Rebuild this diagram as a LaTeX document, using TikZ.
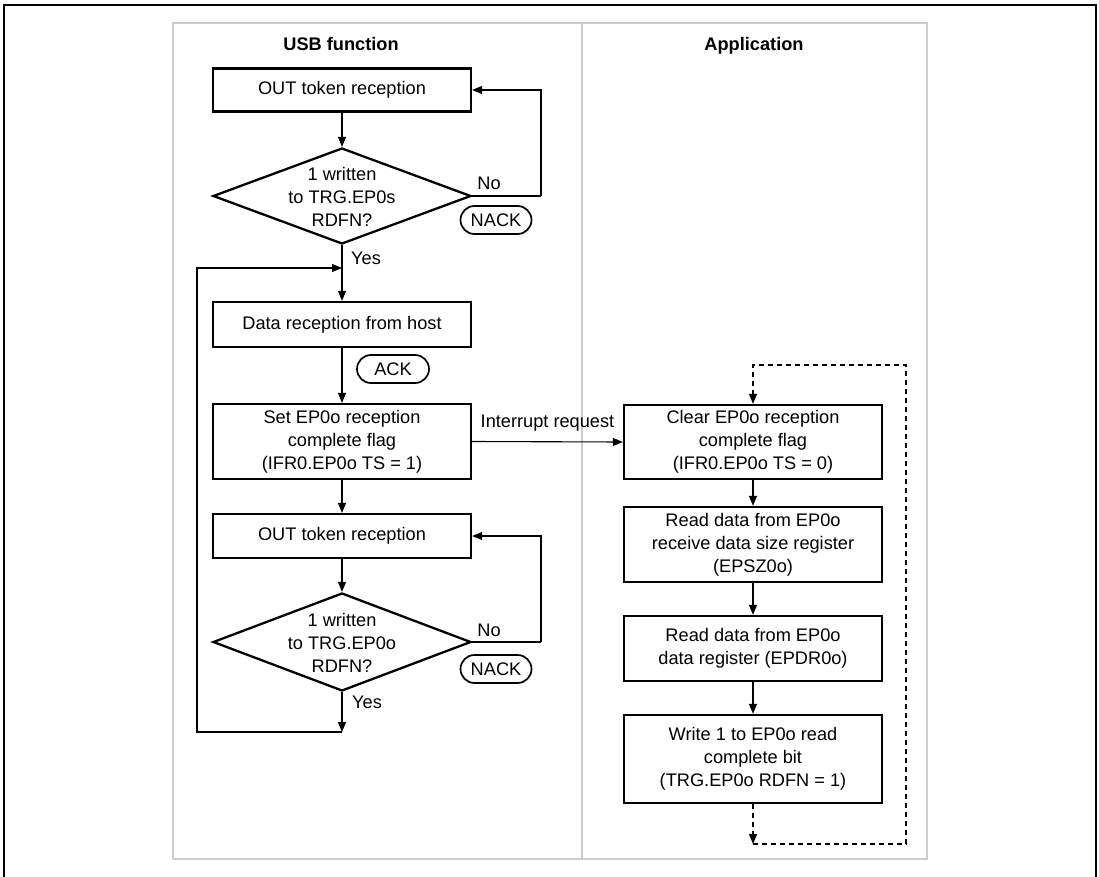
\documentclass[tikz,border=0pt]{standalone}
\usepackage{fontspec}
\setmainfont{Liberation Sans}
\usetikzlibrary{arrows.meta,shapes.geometric,shapes.misc}
\definecolor{lanegray}{RGB}{204,204,204}
\tikzset{
  base/.style={font=\fontsize{18.2}{22.8}\selectfont},
  stepbox/.style={base,draw,line width=2.3pt,minimum width=258pt,align=center,inner sep=0pt},
  decbox/.style={draw,line width=2.3pt,diamond,minimum width=258pt,inner sep=0pt},
  dectext/.style={base,align=center,inner sep=0pt},
  oval/.style={base,draw,line width=1.7pt,rounded rectangle,minimum width=71pt,minimum height=28pt,inner sep=0pt},
  lbl/.style={base,inner sep=0pt},
  title/.style={font=\fontsize{18.2}{22.8}\selectfont\bfseries,inner sep=0pt,anchor=base},
  flow/.style={line width=1.1pt,-{Triangle[length=10pt,width=8pt]}},
  plain/.style={line width=1.1pt},
  dflow/.style={line width=1.1pt,dash pattern=on 5pt off 4pt,-{Triangle[length=10pt,width=8pt]}},
}
\begin{document}
\begin{tikzpicture}[x=1pt,y=-1pt]
\useasboundingbox (0,0) rectangle (1099,877);
% outer frame
\draw[line width=2.6pt] (4,877) -- (4,5) -- (1096,5) -- (1096,877);
% swimlanes
\draw[lanegray,line width=2.5pt] (173,23) rectangle (927,859);
\draw[lanegray,line width=2.5pt] (582,23) -- (582,859);
\node[title] (t1) at (341,50.5) {USB function};
\node[title] (t2) at (754,50.5) {Application};

% left lane
\node[stepbox,minimum height=43pt] (out1) at (342,90) {OUT token reception};
\node[decbox,minimum height=96pt] (d1) at (342,196) {};
\node[dectext] (d1t) at (342,197) {1 written\\to TRG.EP0s\\RDFN?};
\node[lbl] (no1) at (489,183) {No};
\node[oval] (nack1) at (496,220) {NACK};
\node[lbl] (yes1) at (366,258) {Yes};
\coordinate (j1) at (342,268);
\node[stepbox,minimum height=45pt] (data) at (342,324.5) {Data reception from host};
\node[oval,minimum width=72pt] (ack) at (393,369) {ACK};
\node[stepbox,minimum height=75pt] (set) at (342,441.5) {Set EP0o reception\\complete flag\\(IFR0.EP0o TS = 1)};
\node[stepbox,minimum height=44pt] (out2) at (342,536) {OUT token reception};
\node[decbox,minimum height=98pt] (d2) at (342,642) {};
\node[dectext] (d2t) at (342,643) {1 written\\to TRG.EP0o\\RDFN?};
\node[lbl] (no2) at (489,630) {No};
\node[oval] (nack2) at (496,669) {NACK};
\node[lbl] (yes2) at (367,702) {Yes};
\coordinate (j2) at (342,732);
\coordinate (c1) at (541,196);
\coordinate (c2) at (541,642);

\draw[flow] (out1) -- (d1);
\draw[plain] (d1.east) -- (c1);
\draw[flow] (c1) -- (c1 |- out1.east) -- (out1.east);
\draw[flow] (d1) -- (data);
\draw[flow] (data) -- (set);
\draw[flow] (set) -- (out2);
\draw[flow] (out2) -- (d2);
\draw[plain] (d2.east) -- (c2);
\draw[flow] (c2) -- (c2 |- out2.east) -- (out2.east);
\draw[flow] (d2) -- (j2);
\draw[flow] (j2) -- (197,732) -- (197,268) -- (j1);

% right lane
\node[stepbox,minimum height=74pt] (clear) at (753,442) {Clear EP0o reception\\complete flag\\(IFR0.EP0o TS = 0)};
\node[stepbox,minimum height=75pt] (rd1) at (753,544.5) {Read data from EP0o\\receive data size register\\(EPSZ0o)};
\node[stepbox,minimum height=65pt] (rd2) at (753,648.5) {Read data from EP0o\\data register (EPDR0o)};
\node[stepbox,minimum height=88pt] (wr) at (753,759) {Write 1 to EP0o read\\complete bit\\(TRG.EP0o RDFN = 1)};
\coordinate (b1) at (753,844);

\draw[flow] (set.east) -- node[lbl,above=10pt,pos=0.5] (irq) {Interrupt request} (clear.west);
\draw[flow] (clear) -- (rd1);
\draw[flow] (rd1) -- (rd2);
\draw[flow] (rd2) -- (wr);
\draw[dflow] (wr) -- (b1);
\draw[dflow] (b1) -- (906,844) -- (906,365) -- (753,365) -- (clear.north);
\end{tikzpicture}
\end{document}
